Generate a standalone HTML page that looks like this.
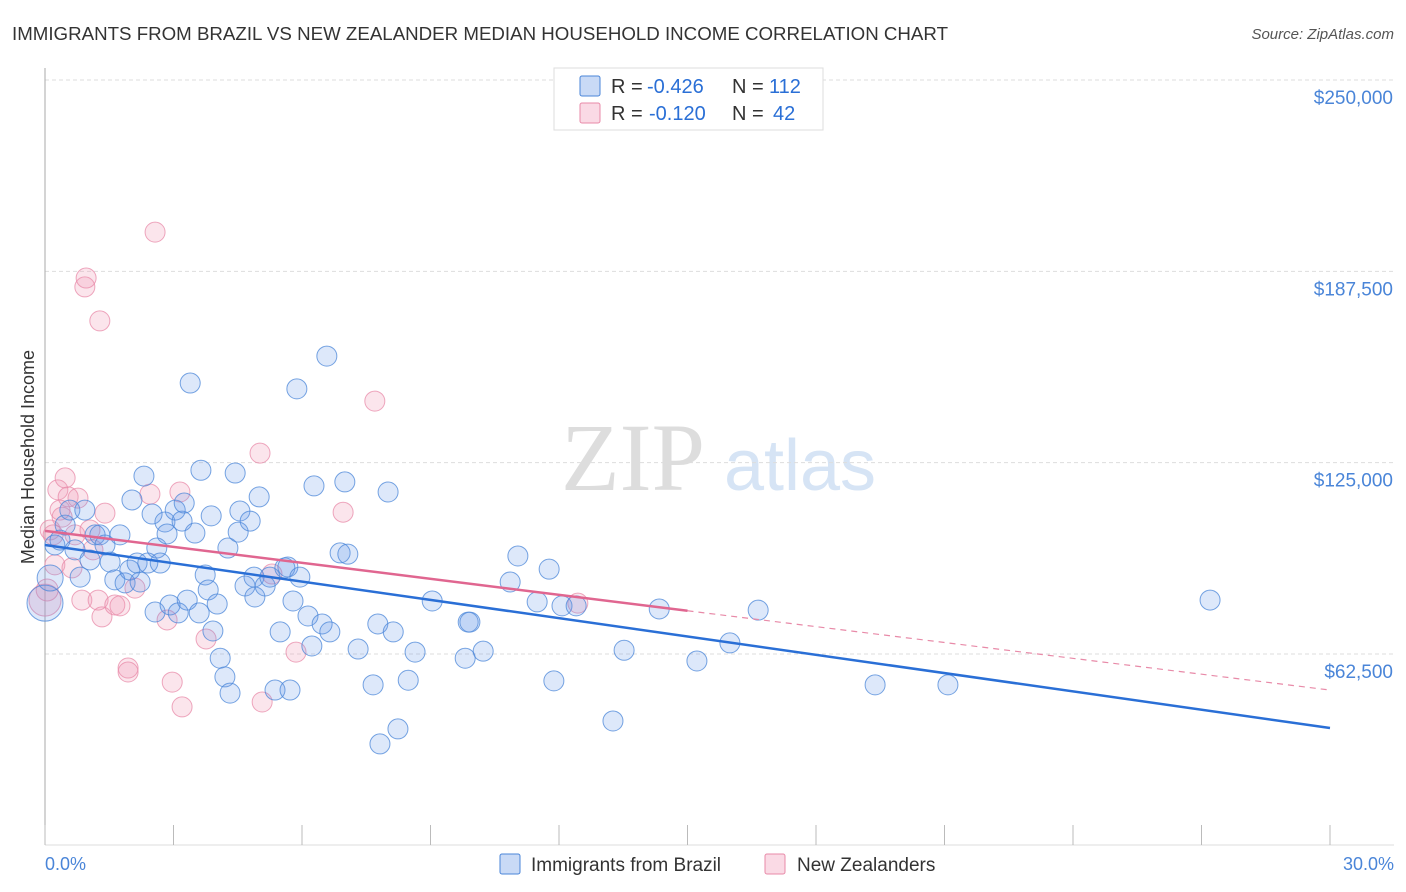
<!DOCTYPE html>
<html><head><meta charset="utf-8"><style>
body{margin:0;background:#fff;font-family:"Liberation Sans",sans-serif;}
#wrap{position:relative;width:1406px;height:892px;overflow:hidden;}
</style></head><body>
<div id="wrap">
<svg id="svg" width="1406" height="892">
<text x="12" y="40" font-size="18" fill="#333" textLength="936" lengthAdjust="spacingAndGlyphs">IMMIGRANTS FROM BRAZIL VS NEW ZEALANDER MEDIAN HOUSEHOLD INCOME CORRELATION CHART</text>
<text x="1394" y="39" font-size="15" fill="#555" font-style="italic" text-anchor="end">Source: ZipAtlas.com</text>
<g><text x="633" y="490" font-size="96" fill="#ddd" font-family="Liberation Serif" text-anchor="middle">ZIP</text><text x="800" y="490" font-size="72" fill="#d6e4f5" text-anchor="middle">atlas</text></g>
<g id="grid"></g><g id="axes"></g><g id="pts"></g><g id="trend"></g>
<g>
<rect x="554" y="68" width="269" height="62" fill="#fff" stroke="#ddd"/>
<rect x="580" y="76" width="20" height="20" fill="rgba(100,150,230,0.35)" stroke="#4a85d8" rx="2"/>
<rect x="580" y="103" width="20" height="20" fill="rgba(240,150,180,0.35)" stroke="#e88aa8" rx="2"/>
<text x="611" y="93" font-size="20" fill="#333">R =</text><text x="647" y="93" font-size="20" fill="#2a6fd6">-0.426</text>
<text x="732" y="93" font-size="20" fill="#333">N =</text><text x="769" y="93" font-size="20" fill="#2a6fd6">112</text>
<text x="611" y="120" font-size="20" fill="#333">R =</text><text x="649" y="120" font-size="20" fill="#2a6fd6">-0.120</text>
<text x="732" y="120" font-size="20" fill="#333">N =</text><text x="773" y="120" font-size="20" fill="#2a6fd6">42</text>
</g>
<text transform="translate(34,457) rotate(-90)" font-size="18" fill="#333" text-anchor="middle">Median Household Income</text>
<text x="45" y="870" font-size="18" fill="#4a85d8">0.0%</text>
<text x="1394" y="870" font-size="18" fill="#4a85d8" text-anchor="end">30.0%</text>
<g><rect x="500" y="854" width="20" height="20" fill="rgba(100,150,230,0.35)" stroke="#4a85d8" rx="2"/><text x="531" y="871" font-size="19" fill="#333">Immigrants from Brazil</text></g>
<g><rect x="765" y="854" width="20" height="20" fill="rgba(240,150,180,0.35)" stroke="#e88aa8" rx="2"/><text x="797" y="871" font-size="19" fill="#333">New Zealanders</text></g>
</svg></div>
<script>
const yTicks=[62500,125000,187500,250000];
const yTickLabels=["$62,500","$125,000","$187,500","$250,000"];
const xTicks=[0,3,6,9,12,15,18,21,24,27,30];
const blueX=[0,.12,.23,.35,.47,.58,.70,.82,.93,1.05,1.17,1.28,1.40,1.52,1.63,1.75,1.87,1.98,2.03,2.15,2.22,2.31,2.40,2.50,2.57,2.61,2.69,2.80,2.85,2.92,3.04,3.11,3.20,3.25,3.32,3.39,3.50,3.60,3.64,3.74,3.81,3.88,3.92,4.02,4.09,4.20,4.27,4.32,4.44,4.51,4.55,4.67,4.79,4.88,4.90,5.00,5.14,5.25,5.37,5.49,5.60,5.67,5.72,5.79,5.88,5.95,6.14,6.23,6.28,6.47,6.58,6.65,6.89,7.00,7.07,7.31,7.66,7.77,7.82,8.01,8.13,8.24,8.48,8.64,9.04,9.81,9.88,9.92,10.23,10.86,11.04,11.49,11.77,11.88,12.07,12.40,13.26,13.52,14.34,15.22,15.99,16.65,19.38,21.08,27.20];
const blueY=[79.1,87.3,98.1,99.7,104.6,109.5,96.5,87.6,109.5,93.2,101.4,101.4,98.1,92.5,86.7,101.4,85.7,89.9,112.8,92.2,86.0,120.6,92.2,108.2,76.2,97.1,92.2,105.6,101.7,78.5,109.5,75.9,105.9,111.8,80.1,151.0,102.0,75.9,122.5,88.3,83.4,107.6,70.0,78.8,61.1,55.0,97.1,49.7,121.6,102.3,109.2,84.7,105.9,87.6,81.1,113.8,84.7,87.6,50.7,69.7,90.6,90.9,50.7,79.8,149.1,87.6,74.9,65.1,117.4,72.3,159.8,69.7,95.5,118.7,95.1,64.1,52.4,72.3,33.1,115.4,69.7,38.0,53.9,63.1,79.8,61.1,72.9,72.9,63.4,86.0,94.5,79.5,90.2,53.7,78.2,78.2,40.6,63.7,77.2,60.2,66.1,76.8,52.4,52.4,80.1];
const blueR=[18,13];
const pinkX=[0,.05,.12,.19,.23,.30,.35,.40,.47,.54,.63,.70,.77,.86,.93,.96,1.05,1.12,1.24,1.28,1.33,1.40,1.63,1.75,1.94,1.94,2.10,2.45,2.57,2.85,2.97,3.15,3.20,3.76,5.02,5.07,5.30,5.86,6.96,7.70,12.44];
const pinkY=[80.1,83.4,103.0,101.4,91.6,116.1,109.5,107.2,120.0,113.8,90.6,101.4,113.4,80.1,182.4,185.3,103.0,96.5,80.1,171.3,74.6,108.5,78.5,78.2,57.9,56.6,84.0,114.7,200.3,73.6,53.3,115.4,45.2,67.4,128.1,46.8,88.6,63.1,108.8,145.1,79.1];
const pinkR=[16,11];
const blueTrend=[[0,98.1],[30,38.3]];
const pinkTrendSolid=[[0,102.7],[15,76.6]];
const pinkTrendDash=[[15,76.6],[30,50.7]];
const X=v=>45+v*(1285/30), Y=k=>80+(250-k)*3.061;
const NS="http://www.w3.org/2000/svg";
function mk(t,a,p){const e=document.createElementNS(NS,t);for(const k in a)e.setAttribute(k,a[k]);p.appendChild(e);return e;}
const grid=document.getElementById('grid'),axes=document.getElementById('axes'),pts=document.getElementById('pts'),tr=document.getElementById('trend');
yTicks.forEach((v,i)=>{const y=Y(v/1000);
const l=mk('line',{x1:45,x2:1394,y1:y,y2:y,stroke:'#ddd','stroke-dasharray':'4,3'},grid);


const t=mk('text',{x:1393,y:y+24,'font-size':19,fill:'#4a85d8','text-anchor':'end'},grid);t.textContent=yTickLabels[i];

});
const ax=mk('line',{x1:45,x2:45,y1:68,y2:845,stroke:'#aaa'},axes);


const bx=mk('line',{x1:45,x2:1394,y1:845,y2:845,stroke:'#ddd'},axes);


xTicks.forEach(v=>{const t=mk('line',{x1:X(v),x2:X(v),y1:825,y2:845,stroke:'#bbb'},axes);

});
function dots(xs,ys,rs,fill,stroke,name){xs.forEach((x,i)=>{const c=mk('circle',{cx:X(x),cy:Y(ys[i]),r:rs[i]||10,fill:fill,stroke:stroke,'stroke-width':1,'stroke-opacity':0.75},pts);

});}
dots(pinkX,pinkY,pinkR,'rgba(240,150,180,0.25)','#e88aa8','new-zealander-point');
dots(blueX,blueY,blueR,'rgba(100,150,230,0.22)','#4a85d8','brazil-point');
function line(d,col,w,dash,name){const l=mk('line',{x1:X(d[0][0]),y1:Y(d[0][1]),x2:X(d[1][0]),y2:Y(d[1][1]),stroke:col,'stroke-width':w},tr);if(dash)l.setAttribute('stroke-dasharray',dash);

}
line(blueTrend,'#2a6fd6',2.5,null,'brazil-trend-line');
line(pinkTrendSolid,'#e06690',2.5,null,'new-zealander-trend-line');
line(pinkTrendDash,'#e88aa8',1.2,'6,5','new-zealander-trend-extension');
</script>
</body></html>
